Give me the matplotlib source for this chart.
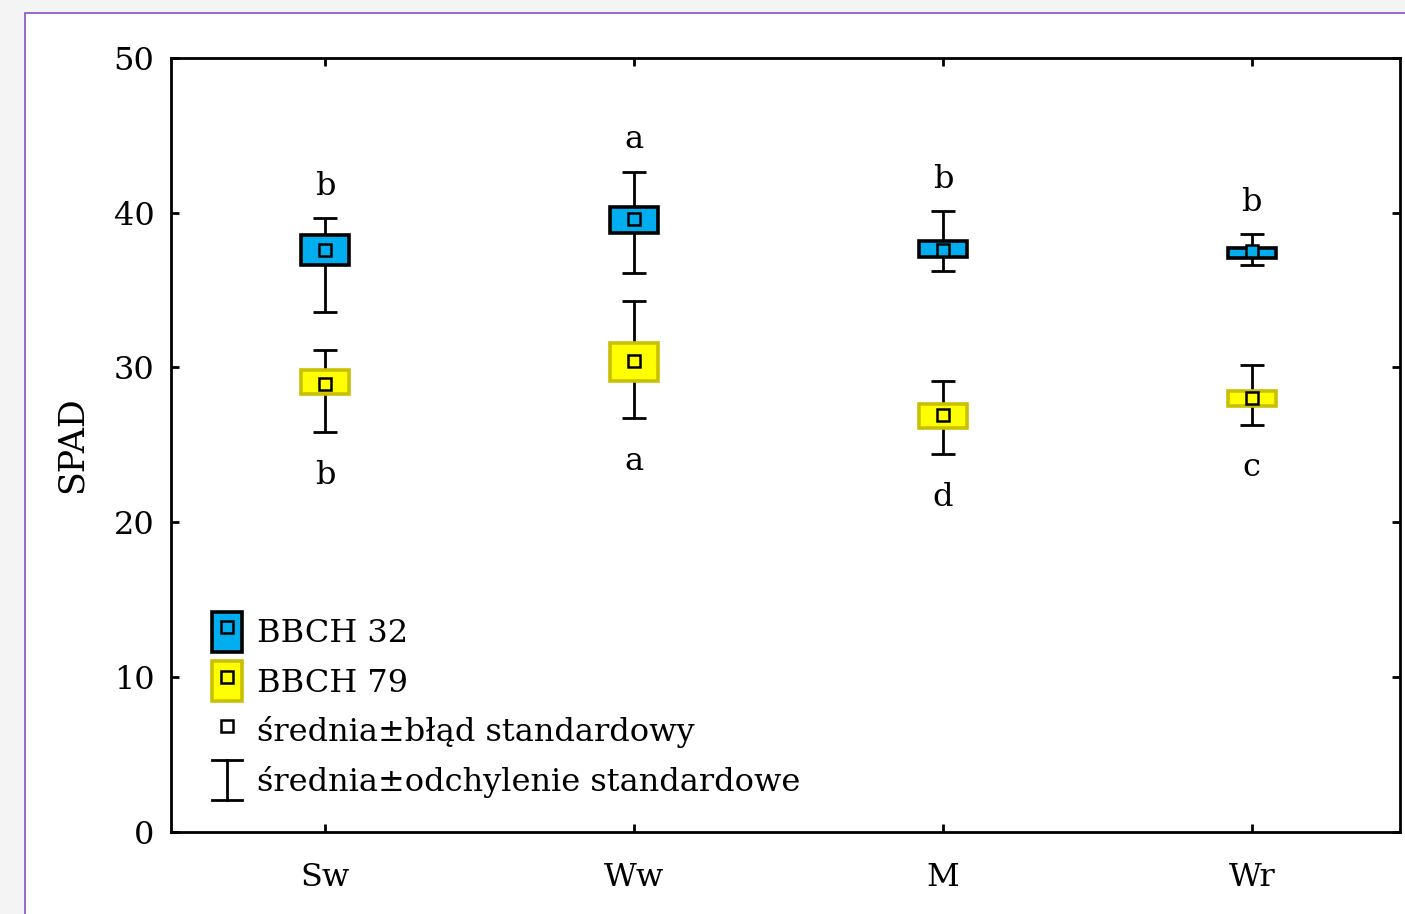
import matplotlib
matplotlib.use("Agg")
import matplotlib.pyplot as plt
from matplotlib.patches import Patch, Rectangle
from matplotlib.lines import Line2D
from matplotlib.legend_handler import HandlerTuple, HandlerBase

# data
categories = ["Sw", "Ww", "M", "Wr"]

bbch32_mean = [37.6, 39.6, 37.6, 37.5]
bbch32_se_low = [36.6, 38.7, 37.15, 37.1]
bbch32_se_high = [38.55, 40.35, 38.15, 37.75]
bbch32_sd_low = [33.55, 36.1, 36.25, 36.6]
bbch32_sd_high = [39.65, 42.65, 40.1, 38.6]
bbch32_letters = ["b", "a", "b", "b"]

bbch79_mean = [28.95, 30.4, 26.95, 28.05]
bbch79_se_low = [28.25, 29.1, 26.1, 27.5]
bbch79_se_high = [29.8, 31.55, 27.65, 28.45]
bbch79_sd_low = [25.8, 26.7, 24.4, 26.3]
bbch79_sd_high = [31.1, 34.3, 29.1, 30.15]
bbch79_letters = ["b", "a", "d", "c"]

FONT = "DejaVu Serif"
FS = 23
BLUE = "#00AEEF"
YELLOW = "#FFFF00"
OLIVE = "#C8C000"
PURPLE = "#8A4FC4"


class WhiskerHandler(HandlerBase):
    def create_artists(self, legend, orig_handle, xdescent, ydescent,
                       width, height, fontsize, trans):
        x0, x1 = -xdescent, -xdescent + width
        y0, y1 = -ydescent, -ydescent + height
        xm = (x0 + x1) / 2
        kw = dict(color="black", lw=2.0, transform=trans)
        return [Line2D([xm, xm], [y0, y1], **kw),
                Line2D([x0, x1], [y0, y0], **kw),
                Line2D([x0, x1], [y1, y1], **kw)]


def draw_series(ax, x, mean, se_lo, se_hi, sd_lo, sd_hi, fill, edge):
    yerr = [[m - lo for m, lo in zip(mean, sd_lo)],
            [hi - m for m, hi in zip(mean, sd_hi)]]
    ax.errorbar(x, mean, yerr=yerr, fmt="none", ecolor="black",
                elinewidth=2.0, capsize=8.6, capthick=2.0, zorder=2)
    heights = [hi - lo for lo, hi in zip(se_lo, se_hi)]
    ax.bar(x, heights, bottom=se_lo, width=0.155, color=fill,
           edgecolor=edge, linewidth=2.6, zorder=3)
    ax.plot(x, mean, ls="none", marker="s", ms=9, mfc=fill,
            mec="black", mew=1.8, zorder=4)


def main():
    plt.rcParams["font.family"] = [FONT]
    fig = plt.figure(figsize=(14.05, 9.14), dpi=100, facecolor="#F4F4F4")
    fig.patches.append(Rectangle((25 / 1405, -0.05), 1.0, 1 - 13 / 914 + 0.05,
                                 transform=fig.transFigure, facecolor="white",
                                 edgecolor=PURPLE, linewidth=1.2, zorder=-5))

    ax = fig.add_axes([171 / 1405, 1 - 831.5 / 914,
                       (1400 - 171) / 1405, (831.5 - 58) / 914])
    ax.set_facecolor("white")
    x = list(range(1, len(categories) + 1))

    draw_series(ax, x, bbch32_mean, bbch32_se_low, bbch32_se_high,
                bbch32_sd_low, bbch32_sd_high, BLUE, "black")
    draw_series(ax, x, bbch79_mean, bbch79_se_low, bbch79_se_high,
                bbch79_sd_low, bbch79_sd_high, YELLOW, OLIVE)

    for xi, top, lt in zip(x, bbch32_sd_high, bbch32_letters):
        ax.annotate(lt, (xi, top), xytext=(0, 23), textcoords="offset points",
                    ha="center", va="center", fontsize=FS)
    for xi, bot, lt in zip(x, bbch79_sd_low, bbch79_letters):
        ax.annotate(lt, (xi, bot), xytext=(0, -31), textcoords="offset points",
                    ha="center", va="center", fontsize=FS)

    ax.set_xlim(0.5, 4.48)
    ax.set_ylim(0, 50)
    ax.set_xticks(x)
    ax.set_xticklabels(categories)
    ax.set_yticks(range(0, 51, 10))
    ax.tick_params(direction="in", length=6, width=2.0, labelsize=FS,
                   top=True, right=True)
    ax.tick_params(axis="x", pad=22)
    ax.tick_params(axis="y", pad=12)
    for sp in ax.spines.values():
        sp.set_linewidth(2.0)
    ax.set_ylabel("SPAD", fontsize=25, labelpad=18)

    handles = [
        (Patch(facecolor=BLUE, edgecolor="black", linewidth=2.6),
         Line2D([], [], ls="none", marker="s", ms=8, mfc=BLUE, mec="black", mew=1.8)),
        (Patch(facecolor=YELLOW, edgecolor=OLIVE, linewidth=2.6),
         Line2D([], [], ls="none", marker="s", ms=8, mfc=YELLOW, mec="black", mew=1.8)),
        Line2D([], [], ls="none", marker="s", ms=8, mfc="white", mec="black", mew=1.8),
        "whisker",
    ]
    labels = ["BBCH 32", "BBCH 79", "średnia±błąd standardowy",
              "średnia±odchylenie standardowe"]
    ax.legend(handles, labels, loc="lower left",
              bbox_to_anchor=(41 / 1229, 31 / 773), borderaxespad=0,
              borderpad=0, frameon=False, fontsize=FS, handlelength=0.95,
              handleheight=1.55, handletextpad=0.45, labelspacing=0.3,
              handler_map={tuple: HandlerTuple(ndivide=1),
                           str: WhiskerHandler()})

    fig.savefig("out.png", dpi=100, facecolor=fig.get_facecolor())
    plt.close(fig)


if __name__ == "__main__":
    main()
